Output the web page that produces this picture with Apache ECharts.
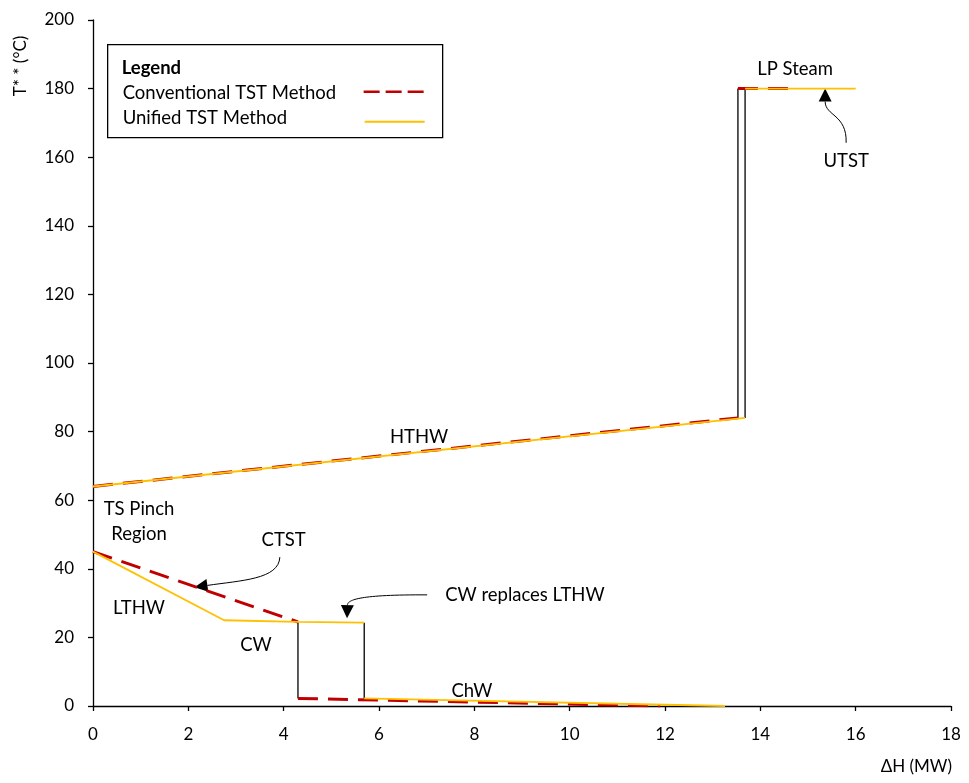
<!DOCTYPE html>
<html>
<head>
<meta charset="utf-8">
<title>Total Site Targeting: CTST vs UTST</title>
<script src="https://cdn.jsdelivr.net/npm/echarts@6/dist/echarts.min.js"></script>
<style>
  html, body { margin: 0; padding: 0; background: #fff; }
  #chart { width: 969px; height: 783px; }
</style>
</head>
<body>
<div id="chart"></div>
<script>
// Axis ticks
const xTicks = { min: 0, max: 18, step: 2 };
const yTicks = { min: 0, max: 200, step: 20 };

// Conventional TST Method (dashed red) segments, [ΔH MW, T** °C]
const convHTHW  = [[0, 64], [13.53, 84]];
const convSteam = [[13.53, 180], [14.66, 180]];
const convLTHW  = [[0, 45], [4.3, 24.5]];
const convChW   = [[4.3, 2.2], [11.9, 0]];

// Unified TST Method (solid amber) segments
const uniHTHW  = [[0, 64], [13.68, 84]];
const uniSteam = [[13.68, 180], [16.0, 180]];
const uniLTHW  = [[0, 45], [2.75, 25], [4.3, 24.5], [5.69, 24.3]];
const uniChW   = [[5.69, 2.2], [13.26, 0]];

// Vertical connectors between utility levels
const connectors = [
  [[13.53, 84], [13.53, 180]],
  [[13.68, 84], [13.68, 180]],
  [[4.3, 24.5], [4.3, 2.2]],
  [[5.69, 24.3], [5.69, 2.2]]
];

// Text annotations, [x, y, text]
const notes = [
  [14.73, 185.7, 'LP Steam'],
  [15.80, 158.9, 'UTST'],
  [6.84, 78.4, 'HTHW'],
  [0.965, 53.9, 'TS Pinch\nRegion'],
  [4.0, 48.4, 'CTST'],
  [0.965, 28.6, 'LTHW'],
  [3.42, 17.8, 'CW'],
  [9.06, 32.4, 'CW replaces LTHW'],
  [7.95, 4.4, 'ChW']
];

// Pointer arrows: start, control 1, control 2, tip (data coords)
const arrows = [
  [[15.80, 164.2], [15.82, 172.5], [15.36, 172.0], [15.36, 180.0]],
  [[3.92, 43.4], [3.90, 36.9], [3.10, 36.6], [2.13, 34.6]],
  [[7.01, 32.4], [5.60, 32.5], [5.34, 31.0], [5.33, 25.6]]
];

const FONT = 'Lato, "Open Sans", sans-serif';
const RED = '#C00000';
const AMBER = '#FFC000';

const chart = echarts.init(document.getElementById('chart'), null, { renderer: 'canvas' });

function lineSeries(data, color, width, dashed, z) {
  return {
    type: 'line',
    data: data,
    symbol: 'none',
    silent: true,
    z: z,
    lineStyle: { color: color, width: width, type: dashed ? [20, 10] : 'solid', cap: 'butt' }
  };
}

const series = [];
connectors.forEach(c => series.push(lineSeries(c, '#000', 1.3, false, 2)));
[convHTHW, convSteam, convLTHW, convChW].forEach(d => series.push(lineSeries(d, RED, 3, true, 3)));
[uniHTHW, uniSteam, uniLTHW, uniChW].forEach(d => series.push(lineSeries(d, AMBER, 1.8, false, 4)));

const axisCommon = {
  axisLine: { show: true, onZero: false, lineStyle: { color: '#000', width: 1.3 } },
  axisTick: { show: true, inside: false, length: 5, lineStyle: { color: '#000', width: 1.3 } },
  axisLabel: { color: '#000', fontFamily: FONT, fontSize: 17 },
  splitLine: { show: false }
};

chart.setOption({
  animation: false,
  backgroundColor: '#fff',
  grid: { left: 93, right: 18, top: 20, bottom: 77, containLabel: false },
  xAxis: Object.assign({
    type: 'value', min: xTicks.min, max: xTicks.max, interval: xTicks.step
  }, axisCommon, { axisLabel: Object.assign({}, axisCommon.axisLabel, { margin: 20 }) }),
  yAxis: Object.assign({
    type: 'value', min: yTicks.min, max: yTicks.max, interval: yTicks.step
  }, axisCommon, { axisLabel: Object.assign({}, axisCommon.axisLabel, { margin: 19 }) }),
  series: series
});

function px(p) { return chart.convertToPixel({ gridIndex: 0 }, p); }

const graphics = [];

// Axis titles
graphics.push({
  type: 'text', x: 21, y: 66, rotation: Math.PI / 2,
  style: { text: 'T* * (°C)', font: '17px ' + FONT, fill: '#000', align: 'center', verticalAlign: 'middle' }
});
graphics.push({
  type: 'text', x: 952, y: 767,
  style: { text: 'ΔH (MW)', font: '17px ' + FONT, fill: '#000', align: 'right', verticalAlign: 'middle' }
});

// Annotation labels
notes.forEach(n => {
  const p = px([n[0], n[1]]);
  graphics.push({
    type: 'text', x: p[0], y: p[1],
    style: { text: n[2], font: '18.5px ' + FONT, fill: '#000', align: 'center', verticalAlign: 'middle', lineHeight: 25 }
  });
});

// Curved pointer arrows with filled heads
arrows.forEach(a => {
  const s = px(a[0]), c1 = px(a[1]), c2 = px(a[2]), t = px(a[3]);
  const dx = t[0] - c2[0], dy = t[1] - c2[1];
  const len = Math.hypot(dx, dy) || 1;
  const ux = dx / len, uy = dy / len;
  const headLen = 13, headHalf = 6.5;
  const bx = t[0] - ux * headLen, by = t[1] - uy * headLen;
  graphics.push({
    type: 'bezierCurve',
    shape: { x1: s[0], y1: s[1], cpx1: c1[0], cpy1: c1[1], cpx2: c2[0], cpy2: c2[1], x2: bx, y2: by },
    style: { stroke: '#000', lineWidth: 1, fill: null }
  });
  graphics.push({
    type: 'polygon',
    shape: { points: [[t[0], t[1]], [bx - uy * headHalf, by + ux * headHalf], [bx + uy * headHalf, by - ux * headHalf]] },
    style: { fill: '#000' }
  });
});

// Legend box
graphics.push({
  type: 'group', left: 107, top: 44,
  children: [
    { type: 'rect', shape: { x: 0, y: 0, width: 335, height: 93 }, style: { fill: '#fff', stroke: '#000', lineWidth: 1.3 } },
    { type: 'text', x: 14, y: 23, style: { text: 'Legend', font: 'bold 18.5px ' + FONT, fill: '#000', verticalAlign: 'middle' } },
    { type: 'text', x: 15, y: 48, style: { text: 'Conventional TST Method', font: '18.5px ' + FONT, fill: '#000', verticalAlign: 'middle' } },
    { type: 'text', x: 15, y: 73, style: { text: 'Unified TST Method', font: '18.5px ' + FONT, fill: '#000', verticalAlign: 'middle' } },
    { type: 'line', shape: { x1: 256, y1: 47, x2: 317, y2: 47 }, style: { stroke: RED, lineWidth: 2.5, lineDash: [16, 6] } },
    { type: 'line', shape: { x1: 257, y1: 77, x2: 317, y2: 77 }, style: { stroke: AMBER, lineWidth: 2 } }
  ]
});

chart.setOption({ graphic: graphics });
</script>
</body>
</html>
